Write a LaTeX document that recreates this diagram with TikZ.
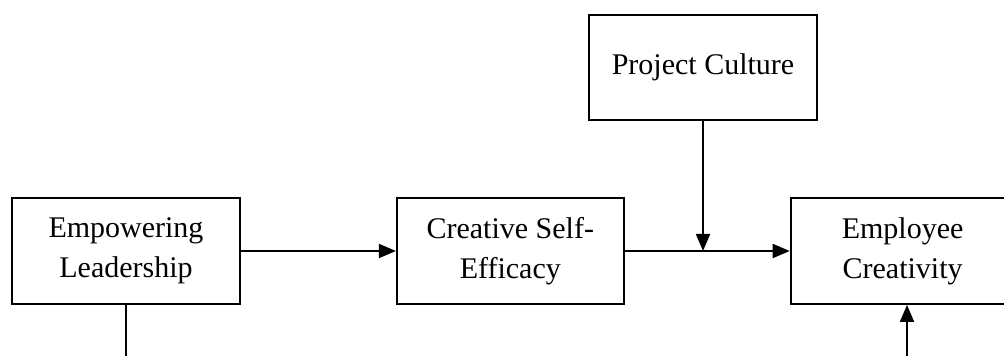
\documentclass[tikz,border=0pt]{standalone}
\usepackage{fontspec}
\setmainfont{Liberation Serif}
\usetikzlibrary{positioning,arrows.meta}

\begin{document}
\begin{tikzpicture}
                [x=1pt,y=1pt,node distance=155pt,
                box/.style={draw,line width=1.8pt,minimum width=228pt,minimum height=106pt,
                            align=center,font=\fontsize{30}{40}\selectfont},
                link/.style={line width=1.8pt,-{Triangle[length=17pt,width=14pt]}}]
                \useasboundingbox (0,0) rectangle (1004,356);
                \clip (0,0) rectangle (1004,356);
                \node[box] (lead) at (126,105) {Empowering\\Leadership};
                \node[box,minimum width=227pt] (cse)[right=of lead]{Creative Self-\\Efficacy};
                \node[box,minimum width=224pt,node distance=165pt] (creat)[right=of cse]{Employee\\Creativity};
                \node[box,minimum height=105pt] (culture) at (703,288.5) {Project Culture};
                % moderator meets the path between the two right boxes
                \coordinate (meet) at (culture.south |- cse.east);
                \coordinate (leadout) at (lead.south |- 0,0);
                \coordinate (creatin) at (907,0);
                \draw[link] (lead) -- (cse);
                \draw[link] (cse) -- (creat);
                \draw[link] (culture) -- (meet);
                \draw[line width=1.8pt] (lead) -- (leadout);
                \draw[link] (creatin) -- (creatin |- creat.south);
            \end{tikzpicture}
\end{document}
